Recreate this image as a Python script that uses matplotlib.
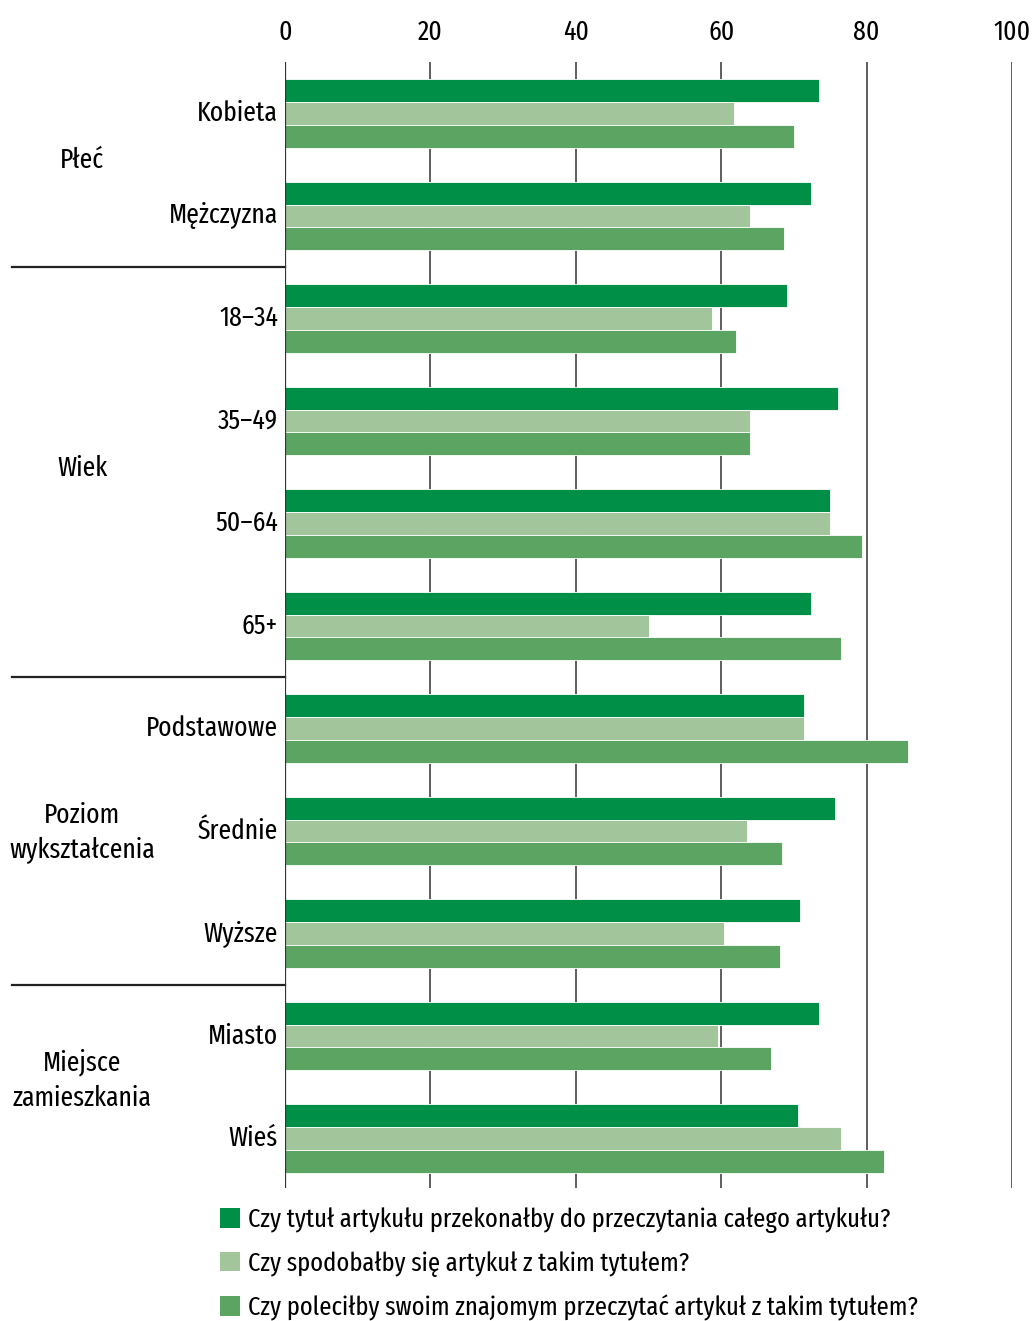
import numpy as np
import matplotlib
matplotlib.use("Agg")
import matplotlib.pyplot as plt
from matplotlib.patches import Patch
from matplotlib.transforms import ScaledTranslation

plt.rcParams['font.family'] = ['Fira Sans Extra Condensed', 'DejaVu Sans']
plt.rcParams['font.size'] = 20

categories = ['Kobieta', 'Mężczyzna', '18–34', '35–49', '50–64', '65+',
              'Podstawowe', 'Średnie', 'Wyższe', 'Miasto', 'Wieś']
groups = ['Płeć', 'Wiek', 'Poziom\nwykształcenia', 'Miejsce\nzamieszkania']
group_sizes = [2, 4, 3, 2]

przekonalby = [73.4, 72.3, 69.0, 76.1, 75.0, 72.3, 71.4, 75.7, 70.9, 73.5, 70.6]
spodobalby = [61.7, 64.0, 58.7, 64.0, 75.0, 50.0, 71.4, 63.5, 60.4, 59.6, 76.5]
polecilby = [70.0, 68.7, 62.1, 64.0, 79.3, 76.5, 85.7, 68.4, 68.1, 66.8, 82.4]

series_labels = ['Czy tytuł artykułu przekonałby do przeczytania całego artykułu?',
                 'Czy spodobałby się artykuł z takim tytułem?',
                 'Czy poleciłby swoim znajomym przeczytać artykuł z takim tytułem?']
colors = ['#008f46', '#a2c59c', '#5ba462']
ticks = [0, 20, 40, 60, 80, 100]

fig = plt.figure(figsize=(10.34, 13.21), dpi=100)
ax = fig.add_axes([285 / 1034, 1 - 1188 / 1321, 727 / 1034, 1126 / 1321])

y = np.arange(len(categories))
h = 0.2215
for k, vals in enumerate([przekonalby, spodobalby, polecilby]):
    ax.barh(y + (k - 1) * h, vals, height=h, color=colors[k],
            edgecolor='white', linewidth=0.6, zorder=3, label=series_labels[k])

ax.set_xlim(0, 100)
ax.set_ylim(10.483, -0.502)

for t in ticks[1:]:
    ax.axvline(t, color='#333333', lw=1.1, zorder=1)
ax.axvline(0, color='#333333', lw=1.6, zorder=4)

ax.xaxis.tick_top()
ax.set_xticks(ticks)
ax.tick_params(axis='x', length=0, pad=12)
ax.set_yticks(y)
ax.set_yticklabels(categories)
ax.tick_params(axis='y', length=0, pad=5)
# nudge category labels up a little
up = ScaledTranslation(0, 3 / 100, fig.dpi_scale_trans)
for lbl in ax.get_yticklabels():
    lbl.set_transform(lbl.get_transform() + up)
for s in ax.spines.values():
    s.set_visible(False)

# group labels and separators
nudge = [-0.04, -0.04, 0.02, -0.07]
start = 0
for name, n, d in zip(groups, group_sizes, nudge):
    mid = start + (n - 1) / 2 + d
    ax.text(-0.279, mid, name, transform=ax.get_yaxis_transform(),
            ha='center', va='center', linespacing=1.42)
    start += n
    if start < len(categories):
        ax.plot([-0.3755, 0], [start - 0.5, start - 0.5], color='#222222',
                lw=1.6, transform=ax.get_yaxis_transform(), clip_on=False)

handles = [Patch(facecolor=c, edgecolor='none') for c in colors]
fig.legend(handles, series_labels, loc='upper left',
           bbox_to_anchor=(207 / 1034, 1 - 1194 / 1321), frameon=False,
           fontsize=19.2, handlelength=0.75, handleheight=0.75,
           handletextpad=0.3, labelspacing=0.67, borderpad=0)

fig.savefig('out.png', dpi=100)
